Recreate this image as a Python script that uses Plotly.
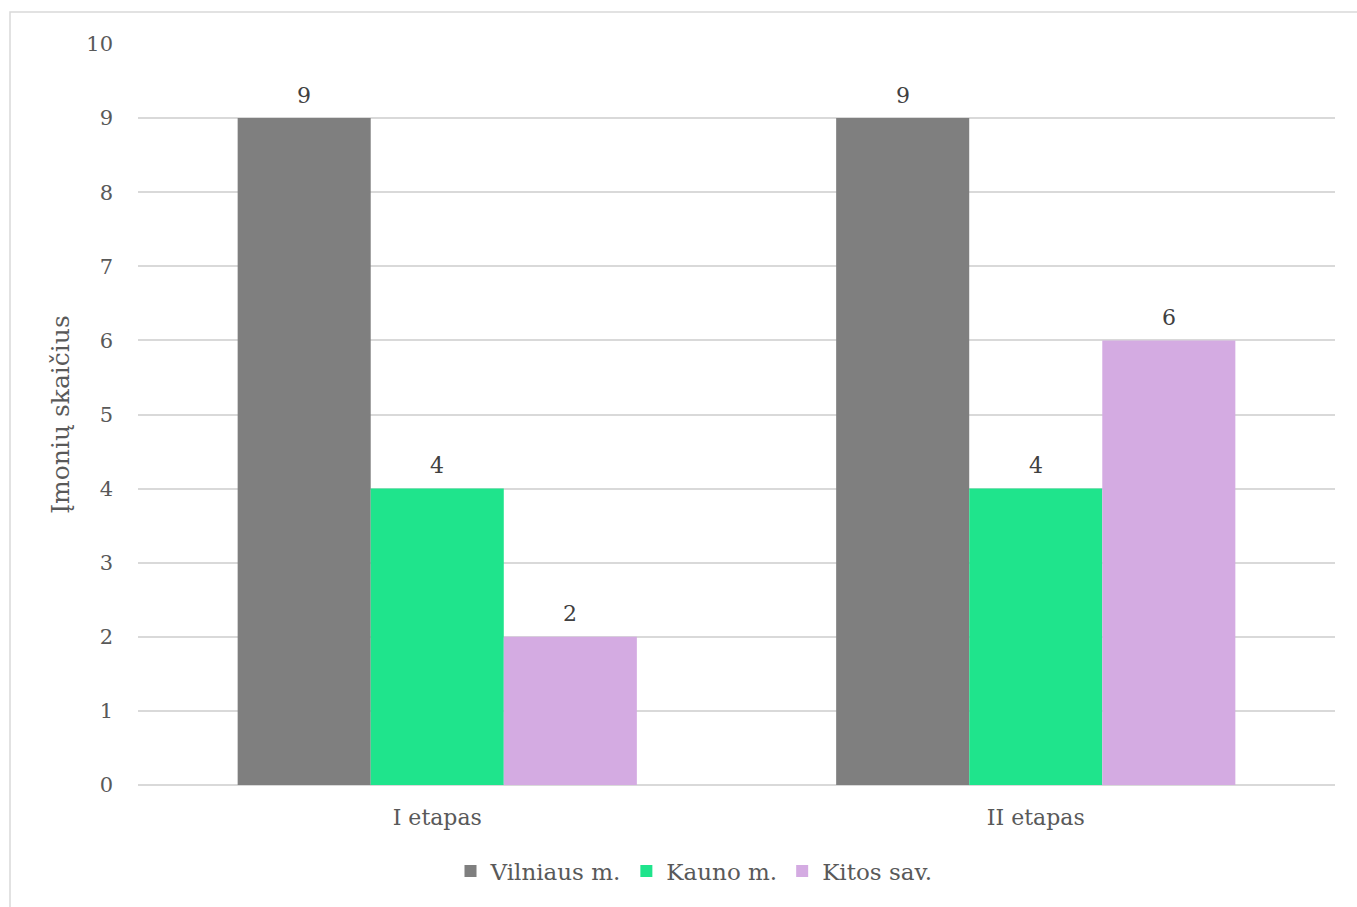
import plotly.graph_objects as go

# Survey stages and number of companies per municipality group
stages = ["I etapas", "II etapas"]
vilnius = [9, 9]
kaunas = [4, 4]
kitos = [2, 6]

series_names = ["Vilniaus m.", "Kauno m.", "Kitos sav."]
series_colors = ["#7f7f7f", "#1fe48c", "#d4abe2"]

y_ticks = list(range(0, 11))

FONT = "DejaVu Serif"
TEXT = "#595959"

W, H = 1357, 907
ml, mr, mt, mb = 138, 22, 44, 122
pw, ph = W - ml - mr, H - mt - mb

fig = go.Figure()
all_series = [vilnius, kaunas, kitos]
for name, vals, col in zip(series_names, all_series, series_colors):
    fig.add_trace(go.Bar(
        name=name,
        x=stages,
        y=vals,
        marker=dict(color=col, line=dict(width=0)),
    ))

# value labels above each bar
bar_px = pw / len(stages) * (1 - 0.333) / len(all_series)
for i, vals in enumerate(all_series):
    for st, v in zip(stages, vals):
        fig.add_annotation(
            x=st, y=v, xref="x", yref="y",
            text=str(v), showarrow=False,
            xshift=(i - 1) * bar_px, yshift=23, yanchor="middle",
            font=dict(family=FONT, size=22, color="#404040"),
        )

# outer frame of the chart area
fx0 = (10 - ml) / pw
fy1 = (H - mb - 12) / ph
fig.add_shape(type="rect", xref="paper", yref="paper",
              x0=fx0, x1=(W + 5 - ml) / pw, y0=-(mb + 5) / ph, y1=fy1,
              line=dict(color="#d9d9d9", width=1.5), fillcolor="rgba(0,0,0,0)", layer="below")

fig.update_layout(
    width=W, height=H,
    margin=dict(l=ml, r=mr, t=mt, b=mb),
    paper_bgcolor="white",
    plot_bgcolor="white",
    barmode="group",
    bargap=0.333,
    bargroupgap=0,
    font=dict(family=FONT, color=TEXT),
    showlegend=True,
    legend=dict(
        orientation="h",
        x=(694 - ml) / pw, xanchor="center",
        y=-(871 - (H - mb)) / ph, yanchor="middle",
        font=dict(family=FONT, size=23, color=TEXT),
        itemwidth=30,
        traceorder="normal",
    ),
    xaxis=dict(
        showgrid=False,
        showline=False,
        ticks="",
        tickfont=dict(family=FONT, size=22, color=TEXT),
        ticklabelstandoff=17,
    ),
    yaxis=dict(
        range=[0, 10],
        tickvals=y_ticks,
        showgrid=True,
        gridcolor="#d9d9d9",
        gridwidth=1.5,
        zeroline=True,
        zerolinecolor="#d9d9d9",
        zerolinewidth=1.5,
        showline=False,
        ticks="",
        tickfont=dict(family=FONT, size=21, color=TEXT),
        ticklabelstandoff=24,
        title=dict(text="Įmonių skaičius", font=dict(family=FONT, size=25, color=TEXT), standoff=9),
    ),
)

fig.write_html("out.html")
